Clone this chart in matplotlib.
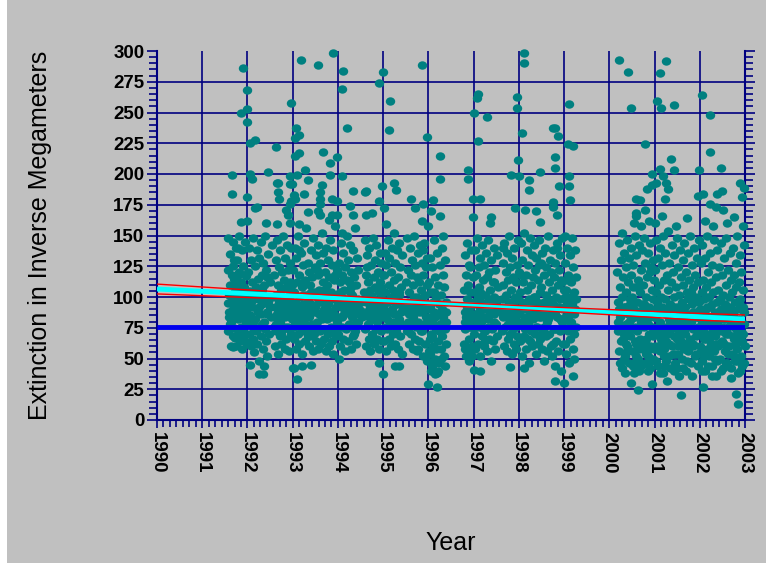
import matplotlib
matplotlib.use('Agg')
import matplotlib.pyplot as plt
import matplotlib.ticker as ticker
import matplotlib.path as mpath
import matplotlib.transforms as mtrans
from matplotlib.patches import Rectangle

plt.rcParams['font.family'] = ['Liberation Sans', 'DejaVu Sans']

# ── Data: (hundredths of the year, extinction) per calendar year ─────
pts_1991 = [(90,286),(85,250),(98,253),(65,199),(65,184),(85,161),
    (56,148),(58,122),(57,95),(58,72),(60,88),(61,110),(62,135),(63,60),(64,80),(66,100),
    (67,59),(67,125),(68,145),(69,90),(70,75),(71,115),(72,67),(73,105),(74,140),(75,85),
    (76,95),(77,130),(78,70),(79,118),(80,82),(81,100),(82,150),(83,64),(84,92),(85,112),
    (86,76),(87,138),(88,98),(89,58),(90,84),(91,125),(92,108),(93,70),(94,90),(95,145),
    (96,78),(97,117),(98,62),(99,103),(60,102),(65,118),(70,130),(75,60),(80,140),(85,88),
    (90,72),(95,95),(62,78),(72,92),(82,120),(92,82),(77,108),(87,66),(97,88)]

pts_1992 = [(0,268),(0,242),(5,225),(16,228),(5,200),(10,196),(0,181),(16,172),(20,173),
    (45,202),(62,222),(0,162),(40,160),(66,159),(68,185),(66,193),(70,180),(93,198),(95,192),
    (98,192),(68,193),(97,178),(95,176),(86,171),(90,167),(93,160),(97,258),
    (5,45),(25,37),(34,37),(36,44),
    (1,95),(2,120),(3,70),(4,140),(5,85),(6,105),(7,60),(8,130),(9,78),(10,112),
    (11,92),(12,66),(13,148),(14,100),(15,55),(16,125),(17,82),(18,108),(19,72),(20,138),
    (21,90),(22,62),(23,115),(24,98),(25,48),(26,132),(27,76),(28,104),(29,86),(30,145),
    (31,68),(32,118),(33,94),(34,58),(35,128),(36,80),(37,110),(38,74),(39,150),(40,100),
    (41,64),(42,122),(43,88),(44,52),(45,135),(46,96),(47,70),(49,112),(52,84),(55,142),
    (58,76),(59,118),(60,92),(61,60),(62,130),(63,102),(64,72),(65,146),(66,86),(67,110),
    (68,54),(69,124),(70,96),(71,68),(72,138),(73,80),(74,106),(75,62),(76,120),(77,90),
    (78,150),(79,74),(80,114),(81,98),(82,58),(83,132),(84,84),(85,108),(86,66),(87,142),
    (88,92),(89,122),(90,76),(91,100),(92,56),(93,128),(94,88),(95,112),(96,70),(97,140),
    (98,96),(99,82),(3,100),(13,80),(23,88),(33,106),(43,116),(63,84),(73,94),(83,76),(93,104)]

pts_1993 = [(8,237),(13,232),(6,229),(13,217),(6,215),(66,218),(83,209),(99,214),(10,199),
    (28,203),(33,195),(64,191),(83,199),(2,183),(4,180),(26,184),(60,185),(60,180),(60,176),
    (88,180),(99,178),(33,169),(55,170),(61,167),(88,167),(97,167),(81,163),(15,159),
    (19,293),(57,289),(90,298),(2,42),(10,33),(20,44),(40,45),(0,42),
    (0,88),(1,122),(2,66),(3,104),(4,140),(5,78),(6,96),(7,58),(8,132),(9,84),
    (10,112),(11,70),(12,150),(13,92),(14,62),(15,118),(16,100),(17,76),(18,136),(19,86),
    (20,108),(21,54),(22,126),(23,94),(24,72),(25,144),(26,82),(27,114),(28,64),(29,102),
    (30,156),(31,90),(32,74),(33,128),(34,98),(35,60),(36,120),(37,84),(38,110),(39,68),
    (40,138),(41,94),(42,78),(43,116),(44,56),(45,148),(46,88),(47,104),(48,70),(49,124),
    (50,92),(51,64),(52,134),(53,100),(54,80),(55,118),(56,58),(57,142),(58,86),(59,106),
    (60,72),(61,128),(62,96),(63,62),(64,152),(65,84),(66,112),(67,74),(68,136),(69,90),
    (70,66),(71,120),(72,102),(73,56),(74,140),(75,82),(76,110),(77,70),(78,130),(79,94),
    (80,60),(81,116),(82,88),(83,146),(84,76),(85,104),(86,64),(87,126),(88,98),(89,54),
    (90,138),(91,86),(92,114),(93,72),(94,158),(95,92),(96,68),(97,122),(98,100),(99,80),
    (3,76),(13,138),(23,110),(33,68),(43,92),(53,122),(63,104),(73,88),(83,98),(93,118)]

pts_1994 = [(12,284),(8,269),(19,237),(10,198),(34,186),(27,174),(34,167),(60,185),(63,186),
    (63,167),(76,168),(91,178),(98,190),(91,274),(3,50),(91,46),
    (0,96),(1,70),(2,128),(3,84),(4,112),(5,60),(6,144),(7,92),(8,76),(9,118),
    (10,100),(11,66),(12,136),(13,86),(14,106),(15,56),(16,124),(17,94),(18,74),(19,150),
    (20,88),(21,114),(22,64),(23,130),(24,98),(25,78),(26,142),(27,90),(28,108),(29,58),
    (30,120),(31,84),(32,102),(33,68),(34,138),(35,94),(36,116),(37,72),(38,156),(39,86),
    (40,110),(41,62),(42,132),(43,96),(44,80),(45,122),(46,90),(58,104),(59,74),(60,146),
    (61,88),(62,118),(63,60),(64,134),(65,98),(66,78),(67,112),(68,66),(69,140),(70,92),
    (71,106),(72,56),(73,126),(74,84),(75,100),(76,70),(77,148),(78,94),(79,116),(80,62),
    (81,130),(82,88),(83,108),(84,74),(85,142),(86,96),(87,66),(88,120),(89,82),(90,104),
    (91,58),(92,136),(93,90),(94,112),(95,72),(96,128),(97,98),(98,64),(99,118),(5,104),
    (15,88),(25,112),(35,70),(65,124),(75,82),(85,92),(95,108),(50,96),(54,84),(10,152)]

pts_1995 = [(0,283),(16,259),(13,236),(86,289),(97,230),(2,172),(25,193),(29,187),(7,159),
    (62,180),(71,172),(88,176),(86,162),(99,158),(0,37),(27,44),(36,44),(99,29),
    (0,92),(1,118),(2,64),(3,136),(4,84),(5,104),(6,56),(7,126),(8,96),(9,74),
    (10,146),(11,88),(12,110),(13,66),(14,132),(15,98),(16,78),(17,120),(18,60),(19,140),
    (20,90),(21,106),(22,70),(23,152),(24,86),(25,114),(26,62),(27,128),(28,100),(29,76),
    (30,138),(31,94),(32,58),(33,116),(34,82),(35,144),(36,102),(37,68),(38,124),(39,88),
    (40,108),(41,54),(42,134),(43,92),(51,112),(52,72),(53,148),(54,96),(55,80),(56,122),
    (57,62),(58,104),(59,140),(60,86),(61,118),(62,70),(63,130),(64,94),(65,58),(66,110),
    (67,84),(68,150),(69,100),(70,66),(71,126),(72,90),(73,76),(74,116),(75,56),(76,136),
    (77,98),(78,80),(79,112),(80,64),(81,142),(82,92),(83,106),(84,72),(85,128),(86,88),
    (87,52),(88,118),(89,96),(90,78),(91,144),(92,102),(93,62),(94,124),(95,84),(96,110),
    (97,48),(98,132),(99,90),(8,82),(18,100),(28,72),(38,96),(58,86),(78,58),(88,138)]

pts_1996 = [(10,179),(6,170),(26,215),(26,196),(26,166),(88,203),(88,196),(98,180),(98,165),
    (19,27),(15,37),
    (0,84),(1,112),(2,56),(3,132),(4,92),(5,70),(6,104),(7,44),(8,124),(9,80),
    (10,96),(11,60),(12,146),(13,88),(14,50),(15,116),(16,74),(17,100),(18,38),(19,136),
    (20,86),(21,64),(22,110),(23,94),(24,46),(25,126),(26,78),(27,102),(28,58),(29,140),
    (30,90),(31,68),(32,118),(33,84),(34,52),(35,108),(36,74),(37,130),(38,62),(39,96),
    (40,80),(78,106),(79,62),(80,134),(81,88),(82,74),(83,118),(84,52),(85,98),(86,144),
    (87,80),(88,110),(89,66),(90,126),(91,92),(92,56),(93,104),(94,76),(95,138),(96,86),
    (97,60),(98,116),(99,96),(3,66),(13,104),(23,72),(33,150),(83,84),(93,124),(5,40)]

pts_1997 = [(10,265),(7,262),(0,250),(29,246),(10,227),(14,180),(38,165),(36,160),(82,199),
    (91,172),(95,263),(95,254),(98,211),(0,41),(14,40),(80,43),
    (0,104),(1,70),(2,138),(3,86),(4,58),(5,118),(6,94),(7,76),(8,148),(9,100),
    (10,62),(11,124),(12,88),(13,108),(14,52),(15,132),(16,80),(17,96),(18,68),(19,142),
    (20,90),(21,114),(22,60),(23,126),(24,84),(25,102),(26,72),(27,136),(28,94),(29,56),
    (30,116),(31,82),(32,146),(33,98),(34,66),(35,120),(36,88),(37,106),(38,48),(39,130),
    (40,92),(41,74),(42,112),(43,64),(44,140),(45,86),(46,100),(47,58),(48,122),(49,94),
    (50,78),(51,134),(52,68),(53,108),(54,90),(62,98),(63,72),(64,128),(65,86),(66,110),
    (67,60),(68,144),(69,92),(70,76),(71,120),(72,102),(73,56),(74,136),(75,84),(76,114),
    (77,66),(78,150),(79,96),(80,70),(81,124),(82,88),(83,106),(84,54),(85,132),(86,94),
    (87,74),(88,116),(89,62),(90,140),(91,100),(92,82),(93,112),(94,58),(95,126),(96,90),
    (97,68),(98,146),(99,98),(5,84),(25,64),(45,112),(65,140),(85,78),(15,104),(35,96)]

pts_1998 = [(11,298),(11,290),(7,233),(0,198),(22,195),(46,202),(22,187),(13,171),(37,170),
    (46,161),(75,237),(81,237),(86,231),(81,214),(81,205),(88,190),(75,177),(75,173),(84,167),
    (11,42),(79,32),(99,30),
    (0,86),(1,120),(2,64),(3,104),(4,144),(5,78),(6,96),(7,52),(8,130),(9,90),
    (10,112),(11,68),(12,152),(13,94),(14,74),(15,118),(16,58),(17,138),(18,84),(19,106),
    (20,66),(21,126),(22,98),(23,46),(24,148),(25,88),(26,110),(27,72),(28,134),(29,92),
    (30,60),(31,116),(32,82),(33,142),(34,100),(35,70),(36,122),(37,86),(38,54),(39,132),
    (40,96),(41,76),(42,114),(43,62),(44,146),(45,90),(46,104),(47,66),(48,128),(49,84),
    (50,108),(51,58),(52,136),(53,94),(54,74),(55,118),(56,48),(57,140),(58,88),(59,102),
    (60,68),(61,124),(62,92),(63,56),(64,150),(65,82),(66,112),(67,70),(68,130),(69,96),
    (70,60),(71,120),(72,86),(73,106),(74,52),(75,138),(76,94),(77,74),(78,116),(79,44),
    (80,128),(81,88),(82,100),(83,64),(84,144),(85,84),(86,110),(87,56),(88,122),(89,92),
    (90,72),(91,134),(92,98),(93,40),(94,114),(95,80),(96,148),(97,90),(98,62),(99,106),
    (5,118),(15,80),(25,64),(35,100),(45,126),(55,76),(65,98),(75,62),(85,140),(95,112)]

pts_1999 = [(10,257),(8,224),(19,223),(10,198),(10,190),(12,179),(19,36),
    (0,92),(1,62),(2,128),(3,84),(4,106),(5,54),(6,140),(7,96),(8,72),(9,118),
    (10,88),(11,46),(12,134),(13,100),(14,66),(15,112),(16,80),(17,148),(18,94),(19,58),
    (20,124),(21,86),(22,104),(23,70),(24,138),(25,90),(26,116),(27,76),(3,150),(13,80),
    (23,50),(8,114)]

pts_2000 = [(22,293),(42,283),(49,254),(78,224),(95,200),(95,191),(84,188),(60,180),(67,179),
    (80,171),(60,168),(60,166),(64,24),(95,29),(47,30),(55,160),(70,158),(88,162),
    (18,120),(19,72),(20,96),(21,144),(22,56),(23,108),(24,84),(25,130),(26,64),(27,100),
    (28,42),(29,152),(30,88),(31,116),(32,70),(33,136),(34,92),(35,52),(36,124),(37,78),
    (38,104),(39,60),(40,146),(41,86),(42,112),(43,46),(44,132),(45,94),(46,68),(47,118),
    (48,82),(49,140),(50,56),(51,100),(52,74),(53,126),(54,90),(55,38),(56,150),(57,84),
    (58,108),(59,62),(60,134),(61,96),(62,72),(63,114),(64,50),(65,142),(66,88),(67,104),
    (68,66),(69,122),(70,80),(71,44),(72,138),(73,94),(74,58),(75,110),(76,76),(77,148),
    (78,86),(79,64),(80,128),(81,100),(82,54),(83,116),(84,82),(85,40),(86,136),(87,92),
    (88,70),(89,120),(90,60),(91,144),(92,88),(93,48),(94,106),(95,76),(96,130),(97,98),
    (98,58),(99,114),(22,90),(32,50),(42,74),(52,108),(62,44),(72,84),(82,66),(92,124),
    (26,86),(36,62),(46,98),(56,76),(66,58),(76,94),(86,52),(96,68),(30,66),(60,48)]

pts_2001 = [(26,292),(11,282),(6,259),(15,254),(44,256),(37,212),(42,203),(13,204),(19,198),
    (4,193),(26,193),(30,188),(24,180),(17,166),(99,203),(97,182),(59,20),(28,32),
    (2,160),(48,158),(72,164),
    (0,84),(1,122),(2,60),(3,104),(4,146),(5,72),(6,96),(7,44),(8,132),(9,88),
    (10,110),(11,56),(12,140),(13,80),(14,100),(15,66),(16,126),(17,92),(18,38),(19,150),
    (20,76),(21,114),(22,58),(23,98),(24,136),(25,86),(26,48),(27,118),(28,70),(29,106),
    (30,154),(31,82),(32,62),(33,128),(34,94),(35,42),(36,112),(37,74),(38,142),(39,90),
    (40,54),(41,120),(42,100),(43,68),(44,134),(45,84),(46,46),(47,108),(48,78),(49,148),
    (50,92),(51,60),(52,124),(53,72),(54,102),(55,36),(56,138),(57,88),(58,116),(59,64),
    (60,96),(61,50),(62,130),(63,82),(64,110),(65,58),(66,144),(67,92),(68,70),(69,120),
    (70,40),(71,104),(72,76),(73,136),(74,86),(75,56),(76,114),(77,98),(78,66),(79,150),
    (80,80),(81,46),(82,126),(83,94),(84,62),(85,108),(86,74),(87,140),(88,88),(89,52),
    (90,118),(91,100),(92,68),(93,132),(94,84),(95,44),(96,112),(97,76),(98,146),(99,96),
    (5,58),(15,90),(25,64),(35,80),(45,54),(55,92),(65,72),(75,100),(85,60),(95,86),
    (10,70),(20,52),(30,90),(40,76),(50,66),(60,80),(70,58),(80,104),(90,74),(50,42)]

pts_2002 = [(5,264),(23,248),(23,218),(47,205),(8,184),(39,184),(50,186),(89,193),(98,189),
    (94,181),(23,176),(36,173),(52,171),(8,27),(85,13),(80,21),
    (12,162),(30,158),(60,160),(76,165),(95,158),
    (0,90),(1,60),(2,128),(3,76),(4,104),(5,48),(6,142),(7,86),(8,114),(9,66),
    (10,98),(11,40),(12,132),(13,80),(14,108),(15,58),(16,150),(17,92),(18,70),(19,120),
    (20,52),(21,100),(22,84),(23,136),(24,62),(25,112),(26,44),(27,94),(28,126),(29,74),
    (30,104),(31,56),(32,146),(33,88),(34,68),(35,116),(36,36),(37,96),(38,80),(39,138),
    (40,60),(41,106),(42,86),(43,124),(44,50),(45,98),(46,72),(47,144),(48,90),(49,64),
    (50,118),(51,42),(52,102),(53,82),(54,132),(55,56),(56,94),(57,110),(58,70),(59,148),
    (60,88),(61,46),(62,122),(63,76),(64,100),(65,60),(66,136),(67,92),(68,34),(69,114),
    (70,80),(71,104),(72,54),(73,140),(74,86),(75,66),(76,118),(77,96),(78,48),(79,128),
    (80,74),(81,108),(82,58),(83,150),(84,90),(85,38),(86,112),(87,82),(88,64),(89,134),
    (90,98),(91,52),(92,120),(93,78),(94,44),(95,106),(96,70),(97,142),(98,88),(99,60),
    (5,80),(15,100),(25,70),(35,62),(45,84),(55,74),(65,90),(75,52),(85,68),(95,92),
    (3,56),(13,66),(23,92),(33,50),(43,74),(53,62),(63,54),(73,68),(83,78),(93,64)]

# extra readings in the crowded core of each year
core = {
    1991: [(59,84),(64,96),(69,68),(74,112),(79,90),(84,74),(89,106),(94,64),(99,94)],
    1992: [(2,84),(8,96),(14,74),(20,104),(26,92),(32,78),(38,98),(44,86),(50,92),
           (56,100),(62,78),(68,88),(74,70),(80,86),(86,96),(92,74),(98,110)],
    1993: [(4,92),(10,80),(16,88),(22,102),(28,78),(34,86),(40,104),(46,74),(52,88),
           (58,96),(64,82),(70,106),(76,90),(82,72),(88,84),(94,100)],
    1994: [(2,102),(8,84),(14,96),(20,76),(26,104),(32,90),(38,78),(44,98),(56,88),
           (62,96),(68,84),(74,102),(80,90),(86,80),(92,98),(98,86)],
    1995: [(4,76),(10,96),(16,88),(22,80),(28,94),(34,104),(40,78),(46,90),(56,74),
           (62,92),(68,80),(74,100),(80,88),(86,72),(92,94),(98,80)],
    1996: [(2,92),(8,68),(14,84),(20,76),(26,94),(32,80),(38,88),(80,80),(86,92),
           (92,76),(98,84),(4,54),(10,46),(16,58),(22,40),(28,50),(36,44),(82,58),
           (90,48),(96,52)],
    1997: [(2,96),(8,80),(14,90),(20,74),(26,90),(32,76),(38,96),(44,80),(50,98),
           (64,84),(70,90),(76,78),(82,96),(88,84),(94,76)],
    1998: [(2,80),(8,92),(14,84),(20,78),(26,96),(32,92),(38,76),(44,84),(50,70),
           (56,96),(62,80),(68,90),(74,88),(80,74),(86,92),(92,82),(98,76)],
    1999: [(2,100),(8,82),(14,94),(20,74),(26,98)],
    2000: [(20,80),(26,76),(32,92),(38,70),(44,80),(50,92),(56,64),(62,86),(68,76),
           (74,90),(80,64),(86,78),(92,70),(98,84),(24,46),(34,38),(40,56),(52,44),
           (58,52),(66,40),(70,60),(78,46),(84,56),(90,42),(97,50)],
    2001: [(2,90),(8,76),(14,62),(20,88),(26,72),(32,84),(38,60),(44,92),(50,78),
           (56,70),(62,90),(68,62),(74,80),(80,60),(86,88),(92,84),(98,70),(4,48),
           (12,38),(22,44),(32,52),(42,40),(52,54),(62,42),(72,48),(82,36),(92,54)],
    2002: [(2,82),(8,72),(14,90),(20,66),(26,80),(32,74),(38,62),(44,88),(50,76),
           (56,82),(62,70),(68,86),(74,78),(80,62),(86,96),(92,72),(98,78),(4,40),
           (10,52),(18,44),(28,36),(38,48),(48,40),(58,46),(70,42),(82,48),(90,40),
           (97,46)],
}

# trend line, its confidence band and the reference level
fit_x = [1990, 2003]
fit_y = [106.5, 82.0]
band_x = [1990, 1992, 1994, 1996, 1998, 2000, 2002, 2003]
band_hi = [110.5, 105.8, 101.2, 96.8, 93.0, 89.8, 86.7, 85.4]
band_lo = [102.5, 99.6, 96.8, 93.6, 89.8, 85.6, 81.1, 79.7]
ref_level = 76

years = list(range(1990, 2004))

by_year = {1991: pts_1991, 1992: pts_1992, 1993: pts_1993, 1994: pts_1994,
           1995: pts_1995, 1996: pts_1996, 1997: pts_1997, 1998: pts_1998,
           1999: pts_1999, 2000: pts_2000, 2001: pts_2001, 2002: pts_2002}
xs, ys = [], []
for yr, pts in by_year.items():
    for f, v in pts + core[yr]:
        xs.append(yr + f / 100)
        ys.append(v)

navy = '#000080'
grey = '#c0c0c0'

fig = plt.figure(figsize=(7.7, 5.63), dpi=100)
fig.patch.set_facecolor('white')
fig.patches.append(Rectangle((7 / 770, 0), 759 / 770, 1, transform=fig.transFigure,
                             facecolor=grey, edgecolor='none', zorder=-10))

ax = fig.add_axes([157 / 770, 143 / 563, 588 / 770, 369 / 563])
ax.set_facecolor(grey)
ax.set_xlim(1990, 2003)
ax.set_ylim(0, 300)

# slightly wide dots
ell = mpath.Path.unit_circle().transformed(mtrans.Affine2D().scale(1.12, 1.0))
ax.scatter(xs, ys, s=46, marker=ell, color='#008080', linewidths=0, zorder=3,
           clip_on=False)

ax.plot(fit_x, fit_y, color='cyan', lw=3.5, zorder=4, solid_capstyle='butt')
ax.plot(band_x, band_hi, color='red', lw=1.0, zorder=5)
ax.plot(band_x, band_lo, color='red', lw=1.0, zorder=5)
ax.plot([1990, 2003], [ref_level, ref_level], color='#0000ee', lw=3.5, zorder=4,
        solid_capstyle='butt')

# ── axes / grid ──────────────────────────────────────────────────────
ax.set_xticks(years)
ax.set_xticklabels([str(y) for y in years], rotation=270, fontsize=13.5,
                   fontweight='bold', va='top', ha='center')
ax.xaxis.set_minor_locator(ticker.MultipleLocator(1 / 7))
ax.set_yticks(range(0, 301, 25))
ax.set_yticklabels([str(v) for v in range(0, 301, 25)], fontsize=13.5, fontweight='bold')
ax.yaxis.set_minor_locator(ticker.MultipleLocator(5))

ax.tick_params(axis='x', which='major', direction='out', length=6, width=1.2,
               color=navy, pad=3)
ax.tick_params(axis='x', which='minor', direction='out', length=5, width=1.2, color=navy)
ax.tick_params(axis='y', which='both', direction='out', width=1.2, color=navy,
               right=True, labelright=False)
ax.tick_params(axis='y', which='major', length=7, pad=2)
ax.tick_params(axis='y', which='minor', length=6)

for side in ['left', 'bottom', 'right']:
    ax.spines[side].set_color(navy)
    ax.spines[side].set_linewidth(1.5)
ax.spines['top'].set_visible(False)

ax.set_axisbelow(True)
ax.grid(True, which='major', color=navy, lw=1.2)
ax.get_ygridlines()[-1].set_visible(False)

fig.text(40 / 770, 1 - 235 / 563, 'Extinction in Inverse Megameters', rotation=90,
         ha='center', va='center', fontsize=18)
fig.text(451 / 770, 1 - 543 / 563, 'Year', ha='center', va='center', fontsize=18)

fig.savefig('out.png', dpi=100, facecolor=fig.get_facecolor())
